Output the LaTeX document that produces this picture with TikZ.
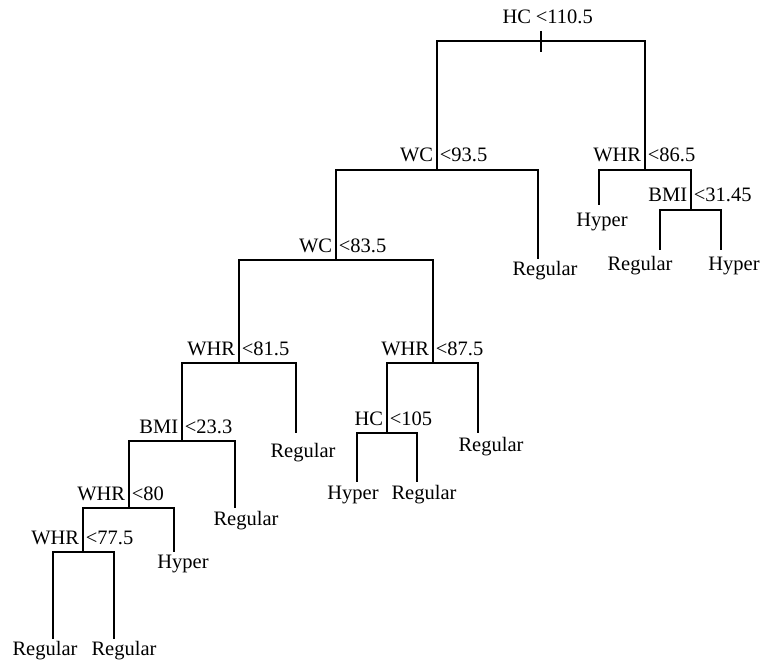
\documentclass[tikz,border=0pt]{standalone}
\usepackage{fontspec}
\setmainfont{Liberation Serif}
\begin{document}
\begin{tikzpicture}[x=1pt,y=-1pt,line width=1.7pt,
  every node/.style={inner sep=0pt,font=\fontsize{20.5}{24}\selectfont},
  var/.style={anchor=base east},
  val/.style={anchor=base west},
  leaf/.style={anchor=base}]
\useasboundingbox (0,0) rectangle (763,663);
% Verzweigungspunkte (Mitte der Querbalken)
\coordinate (root) at (541, 41);
\coordinate (n1)   at (437,170);  % WC < 93.5
\coordinate (n2)   at (645,170);  % WHR < 86.5
\coordinate (n3)   at (336,260);  % WC < 83.5
\coordinate (n4)   at (691,210);  % BMI < 31.45
\coordinate (n5)   at (239,363);  % WHR < 81.5
\coordinate (n6)   at (433,363);  % WHR < 87.5
\coordinate (n7)   at (182,441);  % BMI < 23.3
\coordinate (n8)   at (387,433);  % HC < 105
\coordinate (n9)   at (129,508);  % WHR < 80
\coordinate (n10)  at ( 83,552);  % WHR < 77.5
% Enden der Blattlinien
\coordinate (e1)  at (538,259);
\coordinate (e2)  at (599,205);
\coordinate (e3)  at (660,250);
\coordinate (e4)  at (721,250);
\coordinate (e5)  at (296,433);
\coordinate (e6)  at (478,433);
\coordinate (e7)  at (357,482);
\coordinate (e8)  at (417,482);
\coordinate (e9)  at (235,508);
\coordinate (e10) at (174,552);
\coordinate (e11) at ( 53,639);
\coordinate (e12) at (114,639);
% Stamm der Wurzel
\draw ([yshift=10pt]root) -- ([yshift=-11pt]root);
% Aeste
\draw (root) -| (n1);  \draw (root) -| (n2);
\draw (n1) -| (n3);    \draw (n1) -| (e1);
\draw (n2) -| (e2);    \draw (n2) -| (n4);
\draw (n4) -| (e3);    \draw (n4) -| (e4);
\draw (n3) -| (n5);    \draw (n3) -| (n6);
\draw (n5) -| (n7);    \draw (n5) -| (e5);
\draw (n6) -| (n8);    \draw (n6) -| (e6);
\draw (n8) -| (e7);    \draw (n8) -| (e8);
\draw (n7) -| (n9);    \draw (n7) -| (e9);
\draw (n9) -| (n10);   \draw (n9) -| (e10);
\draw (n10) -| (e11);  \draw (n10) -| (e12);
% Beschriftung der Verzweigungen
\node[var] (root-v) at (532,24) {HC};
\node[val] (root-w) at (535,24) {<110.5};
\foreach \n/\v/\w in {n1/WC/93.5, n2/WHR/86.5, n3/WC/83.5, n4/BMI/31.45,
    n5/WHR/81.5, n6/WHR/87.5, n7/BMI/23.3, n8/HC/105, n9/WHR/80, n10/WHR/77.5}
{
  \node[var] (\n-v) at ([xshift=-3pt,yshift=8pt]\n) {\v};
  \node[val] (\n-w) at ([xshift=2pt,yshift=8pt]\n) {<\w};
}
% Blaetter
\node[leaf] (l1)  at (545,275) {Regular};
\node[leaf] (l2)  at (602,226) {Hyper};
\node[leaf] (l3)  at (640,270) {Regular};
\node[leaf] (l4)  at (734,270) {Hyper};
\node[leaf] (l5)  at (303,457) {Regular};
\node[leaf] (l6)  at (491,451) {Regular};
\node[leaf] (l7)  at (353,499) {Hyper};
\node[leaf] (l8)  at (424,499) {Regular};
\node[leaf] (l9)  at (246,525) {Regular};
\node[leaf] (l10) at (183,568) {Hyper};
\node[leaf] (l11) at ( 45,655) {Regular};
\node[leaf] (l12) at (124,655) {Regular};
\end{tikzpicture}
\end{document}
